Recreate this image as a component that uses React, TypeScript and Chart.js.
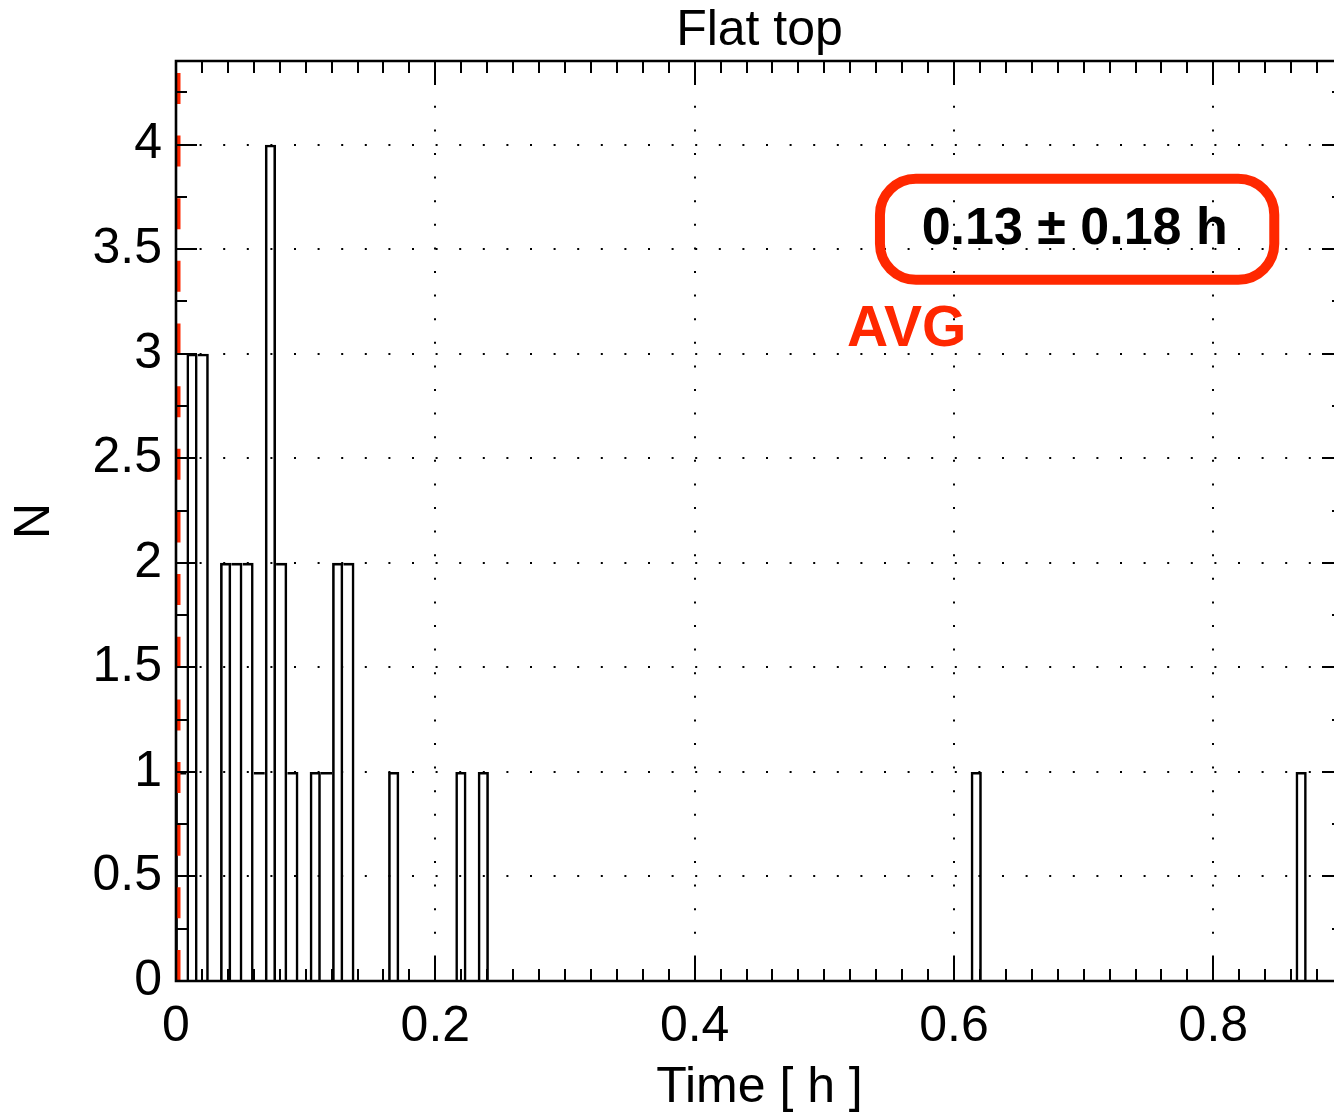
import React, { useEffect, useRef } from 'react';
import { Chart, registerables } from 'chart.js';

Chart.register(...registerables);

// ---------- data ----------
const chartTitle = 'Flat top';
const xTitle = 'Time [ h ]';
const yTitle = 'N';

const xMin = 0;
const xMax = 0.9;
const xMajorStep = 0.2;
const xMinorStep = 0.02;
const yMin = 0;
const yMax = 4.4;
const yMajorStep = 0.5;
const yMinorStep = 0.25;

// histogram: bins start at binStart, each binWidth wide (hours)
const binStart = -0.0006;
const binWidth = 0.00864;
// non-empty bins (bin number) and their counts
const binIndex = [0, 1, 2, 4, 5, 6, 7, 8, 9, 10, 12, 13, 14, 15, 19, 25, 27, 71, 100];
const binCount = [1, 3, 3, 2, 2, 2, 1, 4, 2, 1, 1, 1, 2, 2, 1, 1, 1, 1, 1];

// red dashed reference line
const refLineX = [0, 0];
const refLineY = [0, 4.4];

// annotation
const statText = '0.13 \u00b1 0.18 h';
const avgText = 'AVG';
const statBoxX = [0.5429, 0.847];
const statBoxY = [3.837, 3.354];
const statTextAt = [0.6931, 3.594];
const avgTextAt = [0.5635, 3.11];

// ---------- styles ----------
const RED = 'rgb(255, 40, 0)';
const FONT = "'Liberation Sans', Arial, Helvetica, sans-serif";
const BAR_LINE = 2.6;

const countByBin = new Map<number, number>();
binIndex.forEach((k, i) => countByBin.set(k, binCount[i]));
const countAt = (k: number) => countByBin.get(k) ?? 0;

const fmt = (v: number) => String(Number(Number(v).toFixed(3)));

const framePlugin = {
  id: 'idlFrame',
  beforeDatasetsDraw(chart: any) {
    const { ctx, chartArea: a, scales } = chart;
    const xs = scales.x;
    const ys = scales.y;
    ctx.save();
    ctx.strokeStyle = '#000';
    ctx.lineWidth = 2;
    ctx.setLineDash([2, 21.6]);
    // dotted grid at major ticks
    xs.ticks.forEach((t: any) => {
      if (Math.abs(t.value - xMin) < 1e-9) return;
      const px = Math.round(xs.getPixelForValue(t.value));
      ctx.beginPath();
      ctx.moveTo(px, a.bottom);
      ctx.lineTo(px, a.top);
      ctx.stroke();
    });
    ys.ticks.forEach((t: any) => {
      if (Math.abs(t.value - yMin) < 1e-9) return;
      const py = Math.round(ys.getPixelForValue(t.value));
      ctx.beginPath();
      ctx.moveTo(a.left, py);
      ctx.lineTo(a.right, py);
      ctx.stroke();
    });
    ctx.setLineDash([]);

    // annotation box
    const bx0 = xs.getPixelForValue(statBoxX[0]);
    const bx1 = xs.getPixelForValue(statBoxX[1]);
    const by0 = ys.getPixelForValue(statBoxY[0]);
    const by1 = ys.getPixelForValue(statBoxY[1]);
    const r = 36;
    ctx.beginPath();
    ctx.moveTo(bx0 + r, by0);
    ctx.arcTo(bx1, by0, bx1, by1, r);
    ctx.arcTo(bx1, by1, bx0, by1, r);
    ctx.arcTo(bx0, by1, bx0, by0, r);
    ctx.arcTo(bx0, by0, bx1, by0, r);
    ctx.closePath();
    ctx.strokeStyle = RED;
    ctx.lineWidth = 10;
    ctx.stroke();

    ctx.textAlign = 'center';
    ctx.textBaseline = 'middle';
    ctx.fillStyle = '#000';
    ctx.font = `bold 52px ${FONT}`;
    ctx.fillText(statText, xs.getPixelForValue(statTextAt[0]), ys.getPixelForValue(statTextAt[1]));
    ctx.fillStyle = RED;
    ctx.font = `bold 57px ${FONT}`;
    ctx.fillText(avgText, xs.getPixelForValue(avgTextAt[0]), ys.getPixelForValue(avgTextAt[1]));
    ctx.restore();
  },
  afterDraw(chart: any) {
    const { ctx, chartArea: a, scales } = chart;
    const xs = scales.x;
    const ys = scales.y;
    ctx.save();
    ctx.strokeStyle = '#000';
    ctx.setLineDash([]);
    const seg = (x1: number, y1: number, x2: number, y2: number) => {
      ctx.beginPath();
      ctx.moveTo(x1, y1);
      ctx.lineTo(x2, y2);
      ctx.stroke();
    };
    // frame
    ctx.lineWidth = 2.6;
    ctx.beginPath();
    ctx.rect(a.left, a.top, a.right - a.left, a.bottom - a.top);
    ctx.stroke();
    ctx.lineWidth = 2;
    // x ticks (bottom and top)
    const nx = Math.floor((xMax - xMin) / xMinorStep + 1e-6);
    const xEvery = Math.round(xMajorStep / xMinorStep);
    for (let i = 0; i <= nx; i++) {
      const px = Math.round(xs.getPixelForValue(xMin + i * xMinorStep));
      const len = i % xEvery === 0 ? 24 : 12;
      seg(px, a.bottom, px, a.bottom - len);
      seg(px, a.top, px, a.top + len);
    }
    // y ticks (left and right)
    const ny = Math.floor((yMax - yMin) / yMinorStep + 1e-6);
    const yEvery = Math.round(yMajorStep / yMinorStep);
    for (let i = 0; i <= ny; i++) {
      const py = Math.round(ys.getPixelForValue(yMin + i * yMinorStep));
      const len = i % yEvery === 0 ? 21 : 11;
      seg(a.left, py, a.left + len, py);
      seg(a.right, py, a.right - len, py);
    }
    ctx.restore();
  },
};

export default function App() {
  const canvasRef = useRef<HTMLCanvasElement | null>(null);

  useEffect(() => {
    const canvas = canvasRef.current;
    if (!canvas) return;
    Chart.defaults.font.family = FONT;
    Chart.defaults.color = '#000';

    const barData = binIndex.map((k, i) => ({
      x: binStart + (k + 0.5) * binWidth,
      y: binCount[i],
    }));
    const lineData = refLineX.map((xv, i) => ({ x: xv, y: refLineY[i] }));

    const chart = new Chart(canvas, {
      type: 'bar',
      data: {
        datasets: [
          {
            type: 'line',
            data: lineData,
            borderColor: RED,
            borderWidth: 9,
            borderDash: [31, 31.65],
            borderCapStyle: 'butt',
            pointRadius: 0,
            fill: false,
            tension: 0,
            clip: 0,
          } as any,
          {
            type: 'bar',
            data: barData,
            backgroundColor: 'rgba(0,0,0,0)',
            borderColor: '#000',
            barPercentage: 1,
            categoryPercentage: 1,
            inflateAmount: 0,
            clip: 0,
            borderWidth: (c: any) => {
              if (c.dataIndex === undefined) return 2;
              const k = binIndex[c.dataIndex];
              const v = binCount[c.dataIndex];
              return {
                top: BAR_LINE,
                bottom: 0,
                left: countAt(k - 1) < v ? BAR_LINE : 0,
                right: countAt(k + 1) <= v ? BAR_LINE : 0,
              };
            },
          } as any,
        ],
      },
      options: {
        responsive: false,
        devicePixelRatio: 1,
        animation: false,
        layout: { padding: { left: 0, right: 17, top: 0, bottom: 0 } },
        plugins: {
          legend: { display: false },
          tooltip: { enabled: false },
          title: {
            display: true,
            text: chartTitle,
            fullSize: false,
            color: '#000',
            font: { size: 50, weight: 'normal', lineHeight: 1.2 },
            padding: { top: 1, bottom: 0 },
          },
        },
        scales: {
          x: {
            type: 'linear',
            min: xMin,
            max: xMax,
            offset: false,
            grid: { display: false, drawTicks: false, offset: false },
            border: { display: false },
            ticks: {
              stepSize: xMajorStep,
              includeBounds: false,
              padding: 16,
              maxRotation: 0,
              autoSkip: false,
              font: { size: 50, lineHeight: 1.2 },
              color: '#000',
              callback: (v: any) => fmt(v),
            },
            title: {
              display: true,
              text: xTitle,
              color: '#000',
              font: { size: 50, lineHeight: 1 },
              padding: { top: 0, bottom: 4 },
            },
            afterFit: (s: any) => {
              s.height = 136;
            },
          },
          y: {
            type: 'linear',
            min: yMin,
            max: yMax,
            grid: { display: false, drawTicks: false },
            border: { display: false },
            ticks: {
              stepSize: yMajorStep,
              includeBounds: false,
              padding: 14,
              autoSkip: false,
              font: { size: 50, lineHeight: 1.2 },
              color: '#000',
              callback: (v: any) => fmt(v),
            },
            title: {
              display: true,
              text: yTitle,
              color: '#000',
              font: { size: 50, lineHeight: 1 },
              padding: { top: 10, bottom: 0 },
            },
            afterFit: (s: any) => {
              s.width = 176;
            },
          },
        },
      },
      plugins: [framePlugin],
    } as any);

    return () => chart.destroy();
  }, []);

  return (
    <div
      style={{
        position: 'fixed',
        left: 0,
        top: 0,
        width: 1334,
        height: 1117,
        overflow: 'hidden',
        background: '#fff',
      }}
    >
      <canvas
        ref={canvasRef}
        width={1360}
        height={1117}
        style={{ display: 'block', width: 1360, height: 1117 }}
      />
    </div>
  );
}
